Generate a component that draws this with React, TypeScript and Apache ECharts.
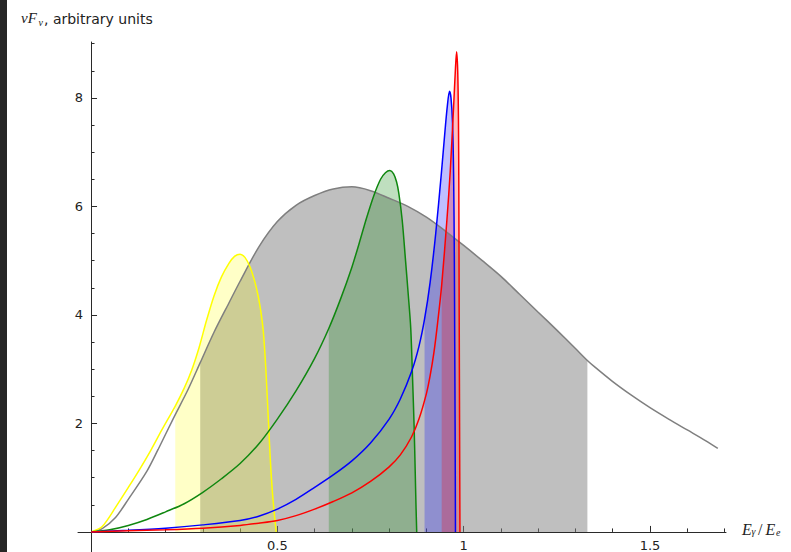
import { useEffect, useRef } from "react";
import * as echarts from "echarts";

// Spectra: [E_gamma / E_e, nuF_nu]
const grayCurve: [number, number][] = [
  [0, 0], [0.03, 0.06], [0.065, 0.26], [0.1, 0.6], [0.15, 1.12], [0.18, 1.52],
  [0.22, 2.08], [0.26, 2.62], [0.293, 3.12], [0.33, 3.68], [0.37, 4.22], [0.4, 4.62],
  [0.45, 5.25], [0.5, 5.72], [0.55, 6.02], [0.6, 6.2], [0.65, 6.32], [0.7, 6.36],
  [0.75, 6.29], [0.8, 6.15], [0.85, 6.0], [0.9, 5.8], [0.95, 5.55], [1.0, 5.28],
  [1.05, 5.0], [1.1, 4.71], [1.15, 4.38], [1.2, 4.05], [1.25, 3.72], [1.3, 3.38],
  [1.332, 3.16], [1.35, 3.05], [1.4, 2.77], [1.45, 2.52], [1.5, 2.29], [1.55, 2.08],
  [1.6, 1.88], [1.65, 1.68], [1.682, 1.54],
];

const yellowCurve: [number, number][] = [
  [0, 0], [0.03, 0.1], [0.07, 0.5], [0.1, 0.82], [0.13, 1.15], [0.16, 1.5],
  [0.19, 1.88], [0.226, 2.32], [0.25, 2.65], [0.27, 2.98], [0.29, 3.4], [0.31, 3.9],
  [0.33, 4.35], [0.35, 4.7], [0.37, 4.95], [0.385, 5.08], [0.4, 5.12], [0.413, 5.06],
  [0.427, 4.88], [0.44, 4.6], [0.449, 4.33], [0.456, 4.05], [0.462, 3.72], [0.467, 3.25],
  [0.471, 2.75], [0.476, 2.05], [0.481, 1.35], [0.486, 0.8], [0.491, 0.4], [0.495, 0.12],
  [0.497, 0],
];

const greenCurve: [number, number][] = [
  [0, 0], [0.05, 0.04], [0.1, 0.12], [0.15, 0.23], [0.2, 0.37], [0.25, 0.52],
  [0.3, 0.73], [0.35, 0.98], [0.4, 1.26], [0.45, 1.62], [0.5, 2.08], [0.55, 2.6],
  [0.6, 3.2], [0.638, 3.75], [0.67, 4.3], [0.7, 4.88], [0.72, 5.33], [0.74, 5.8],
  [0.76, 6.22], [0.777, 6.5], [0.79, 6.62], [0.802, 6.66], [0.812, 6.6], [0.82, 6.45],
  [0.826, 6.24], [0.835, 5.75], [0.844, 5.0], [0.851, 4.4], [0.858, 3.75], [0.863, 2.8],
  [0.867, 1.95], [0.87, 1.1], [0.872, 0.5], [0.874, 0],
];

const blueCurve: [number, number][] = [
  [0, 0], [0.1, 0.03], [0.2, 0.07], [0.3, 0.13], [0.4, 0.21], [0.45, 0.29],
  [0.5, 0.42], [0.55, 0.6], [0.6, 0.82], [0.65, 1.05], [0.7, 1.31], [0.75, 1.64],
  [0.8, 2.08], [0.83, 2.45], [0.86, 2.95], [0.88, 3.42], [0.895, 3.92], [0.91, 4.6],
  [0.925, 5.5], [0.94, 6.6], [0.95, 7.4], [0.956, 7.84], [0.962, 8.12], [0.966, 8.0],
  [0.97, 7.55], [0.973, 6.6], [0.975, 5.0], [0.976, 3.5], [0.977, 2.0], [0.978, 0],
];

const redCurve: [number, number][] = [
  [0, 0], [0.1, 0.02], [0.2, 0.04], [0.3, 0.07], [0.4, 0.12], [0.45, 0.16],
  [0.5, 0.21], [0.55, 0.3], [0.6, 0.42], [0.65, 0.56], [0.7, 0.72], [0.75, 0.93],
  [0.8, 1.2], [0.83, 1.42], [0.86, 1.75], [0.88, 2.08], [0.9, 2.55], [0.91, 2.88],
  [0.92, 3.3], [0.93, 3.85], [0.941, 4.55], [0.955, 5.75], [0.964, 6.65], [0.973, 7.84],
  [0.978, 8.55], [0.981, 8.85], [0.984, 8.5], [0.986, 7.6], [0.987, 6.4], [0.988, 4.0],
  [0.989, 2.0], [0.99, 0],
];

// Shaded energy bands under each curve
const grayBand = [0.293, 1.332];
const yellowBand = [0.226, 0.497];
const greenBand = [0.638, 0.874];
const blueBand = [0.895, 0.978];
const redBand = [0.941, 0.99];

const xTickValues = [0.5, 1, 1.5];
const yTickValues = [2, 4, 6, 8];

const X_MIN = -0.035;
const X_MAX = 1.704;
const Y_MIN = -0.37;
const Y_MAX = 9.03;

const curves = [
  { name: "gray", data: grayCurve, band: grayBand, line: "#7f7f7f", fill: "rgba(128,128,128,0.5)" },
  { name: "yellow", data: yellowCurve, band: yellowBand, line: "#ffff00", fill: "rgba(255,255,0,0.22)" },
  { name: "green", data: greenCurve, band: greenBand, line: "#0f870f", fill: "rgba(0,128,0,0.25)" },
  { name: "blue", data: blueCurve, band: blueBand, line: "#0000ff", fill: "rgba(0,0,255,0.25)" },
  { name: "red", data: redCurve, band: redBand, line: "#ff0000", fill: "rgba(255,0,0,0.25)" },
];

const tickFont = { fontFamily: "DejaVu Sans", fontSize: 13, color: "#222" };
const serif = "Liberation Serif";

function inList(list: number[], v: number) {
  return list.some((t) => Math.abs(t - v) < 1e-6);
}

export default function App() {
  const ref = useRef<HTMLDivElement>(null);

  useEffect(() => {
    if (!ref.current) return;
    const chart = echarts.init(ref.current, null, { renderer: "svg" });

    const gridLeft = 78;
    const gridTop = 42;
    const gridW = 648;
    const gridH = 510;
    // shift the axis lines so they cross at the data origin
    const yAxisShift = (0 - X_MIN) / (X_MAX - X_MIN) * gridW;
    const xAxisShift = (0 - Y_MIN) / (Y_MAX - Y_MIN) * gridH;

    const smooth = 0.3;

    const fillSeries = curves.map((c) => ({
      type: "line",
      name: c.name + "-band",
      data: c.data.filter(([x]) => x >= c.band[0] - 1e-9 && x <= c.band[1] + 1e-9),
      showSymbol: false,
      symbol: "none",
      silent: true,
      smooth,
      lineStyle: { width: 0, opacity: 0 },
      areaStyle: { color: c.fill, opacity: 1 },
      z: 1,
    }));

    const lineSeries = curves.map((c, i) => ({
      type: "line",
      name: c.name,
      data: c.data,
      showSymbol: false,
      symbol: "none",
      silent: true,
      smooth,
      lineStyle: { color: c.line, width: 1.5 },
      z: 3 + i,
    }));

    const axisColor = "#2a2a2a";

    chart.setOption({
      animation: false,
      backgroundColor: "#ffffff",
      grid: {
        left: gridLeft,
        top: gridTop,
        width: gridW,
        height: gridH,
        containLabel: false,
        outerBoundsMode: "none",
      },
      xAxis: {
        type: "value",
        position: "bottom",
        offset: -xAxisShift,
        min: X_MIN,
        max: X_MAX,
        splitNumber: 4,
        axisLine: { onZero: false, lineStyle: { color: axisColor, width: 1 } },
        axisTick: { inside: true, length: 6, customValues: xTickValues, lineStyle: { color: axisColor } },
        minorTick: { show: true, splitNumber: 5, length: 3.5, lineStyle: { color: axisColor } },
        splitLine: { show: false },
        axisLabel: {
          ...tickFont,
          margin: 7,
          customValues: xTickValues,
          formatter: (v: number) => (inList(xTickValues, v) ? String(v) : ""),
        },
      },
      yAxis: {
        type: "value",
        position: "left",
        offset: -yAxisShift,
        min: Y_MIN,
        max: Y_MAX,
        splitNumber: 5,
        axisLine: { onZero: false, lineStyle: { color: axisColor, width: 1 } },
        axisTick: { inside: true, length: 6, customValues: yTickValues, lineStyle: { color: axisColor } },
        minorTick: { show: true, splitNumber: 4, length: 3.5, lineStyle: { color: axisColor } },
        splitLine: { show: false },
        axisLabel: {
          ...tickFont,
          margin: 8,
          customValues: yTickValues,
          formatter: (v: number) => (inList(yTickValues, v) ? String(v) : ""),
        },
      },
      series: [...fillSeries, ...lineSeries],
      graphic: [
        { type: "rect", left: 0, top: 0, shape: { width: 7, height: 552 }, style: { fill: "#262626" }, silent: true },
        // vertical axis title: νF_ν, arbitrary units
        { type: "text", x: 21, y: 18, style: { text: "νF", font: `italic 15px "${serif}"`, fill: "#222", verticalAlign: "middle", align: "left" } },
        { type: "text", x: 38.5, y: 22, style: { text: "ν", font: `italic 10px "${serif}"`, fill: "#222", verticalAlign: "middle", align: "left" } },
        { type: "text", x: 44, y: 18.5, style: { text: ", arbitrary units", font: `14px "DejaVu Sans"`, fill: "#222", verticalAlign: "middle", align: "left" } },
        // horizontal axis title: E_γ / E_e
        { type: "text", x: 742, y: 529.5, style: { text: "E", font: `italic 16px "${serif}"`, fill: "#222", verticalAlign: "middle", align: "left" } },
        { type: "text", x: 751.5, y: 531, style: { text: "γ", font: `italic 10px "${serif}"`, fill: "#222", verticalAlign: "middle", align: "left" } },
        { type: "text", x: 758, y: 529.5, style: { text: "/", font: `16px "${serif}"`, fill: "#222", verticalAlign: "middle", align: "left" } },
        { type: "text", x: 765.5, y: 529.5, style: { text: "E", font: `italic 16px "${serif}"`, fill: "#222", verticalAlign: "middle", align: "left" } },
        { type: "text", x: 776, y: 532, style: { text: "e", font: `italic 10px "${serif}"`, fill: "#222", verticalAlign: "middle", align: "left" } },
      ],
    });

    return () => chart.dispose();
  }, []);

  return (
    <div
      ref={ref}
      style={{ position: "fixed", left: 0, top: 0, width: 791, height: 552, background: "#fff" }}
    />
  );
}
